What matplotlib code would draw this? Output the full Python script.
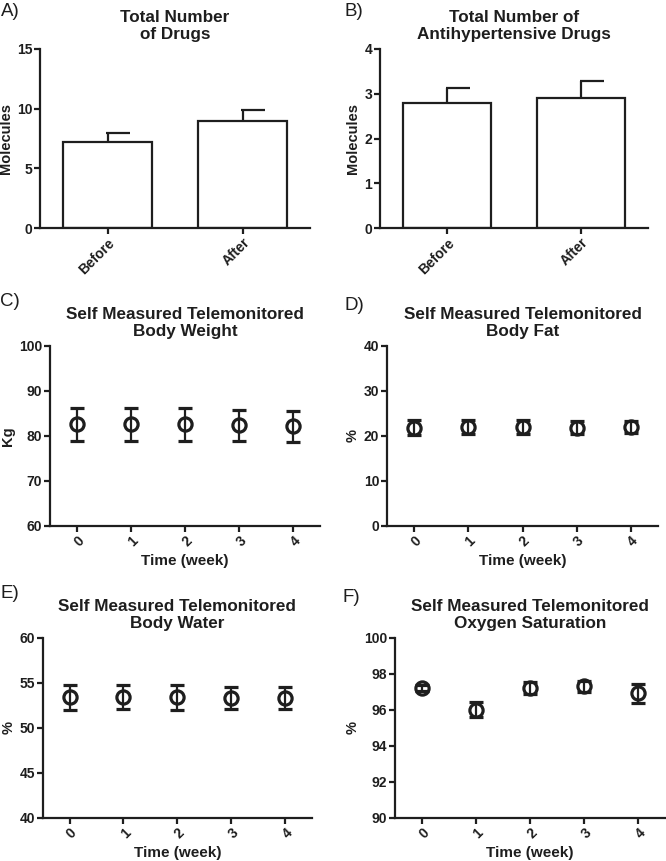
import matplotlib
matplotlib.use("Agg")
import matplotlib.pyplot as plt
import numpy as np

plt.rcParams['font.family'] = ['Liberation Sans', 'DejaVu Sans']

# ---- data ----
bar_categories = ["Before", "After"]
drugs_mean = [7.2, 9.0]
drugs_err = [0.8, 0.9]
antihyp_mean = [2.8, 2.9]
antihyp_err = [0.32, 0.38]

weeks = [0, 1, 2, 3, 4]
weight_mean = [82.5, 82.5, 82.5, 82.3, 82.1]
weight_err = [3.6, 3.6, 3.6, 3.5, 3.4]
fat_mean = [21.8, 22.0, 22.0, 21.8, 21.9]
fat_err = [1.7, 1.6, 1.6, 1.5, 1.4]
water_mean = [53.4, 53.4, 53.4, 53.3, 53.3]
water_err = [1.4, 1.3, 1.4, 1.25, 1.25]
oxy_mean = [97.2, 96.0, 97.2, 97.3, 96.9]
oxy_err = [0.18, 0.42, 0.34, 0.3, 0.52]

W, H = 666, 861
fig = plt.figure(figsize=(W / 100, H / 100), dpi=100)

INK = "#1e1e1e"


def add_ax(x0, x1, ytop, ybot):
    return fig.add_axes([x0 / W, 1 - ybot / H, (x1 - x0) / W, (ybot - ytop) / H])


LW = 1.6
TICKFS = 10
LABFS = 10.5
TITLEFS = 12.3
PANELFS = 13.5


def style(ax):
    for s in ["top", "right"]:
        ax.spines[s].set_visible(False)
    for s in ["left", "bottom"]:
        ax.spines[s].set_linewidth(LW)
        ax.spines[s].set_color(INK)
    ax.tick_params(width=LW, length=4, color=INK, labelsize=TICKFS, pad=1.5, labelcolor=INK)
    for lab in ax.get_yticklabels():
        lab.set_fontweight("bold")


def bar_panel(ax, means, errs, ymax, yticks, title):
    x = np.arange(len(bar_categories))
    ax.bar(x, means, width=0.66, color="white", edgecolor=INK, linewidth=LW, zorder=2)
    tops = np.array(means) + np.array(errs)
    ax.vlines(x, means, tops, color=INK, linewidth=LW, zorder=1)
    ax.hlines(tops, x - 0.01, x + 0.17, color=INK, linewidth=LW, zorder=1)
    ax.set_xlim(-0.5, 1.5)
    ax.set_ylim(0, ymax)
    ax.set_yticks(yticks)
    ax.set_xticks(x)
    ax.set_xticklabels(bar_categories, rotation=45, ha="right", va="top",
                       rotation_mode="anchor", fontweight="bold")
    ax.set_ylabel("Molecules", fontsize=LABFS, fontweight="bold", labelpad=3, color=INK)
    style(ax)
    ax.set_title(title, fontsize=TITLEFS, fontweight="bold", pad=7, linespacing=1.15, color=INK)


def point_panel(ax, means, errs, ylim, yticks, ylabel, title):
    ax.errorbar(weeks, means, yerr=errs, fmt="o", mfc="none", mec=INK, ms=9.5, mew=2.3,
                ecolor=INK, elinewidth=LW, capsize=4.8, capthick=LW)
    ax.set_xlim(-0.5, 4.5)
    ax.set_ylim(*ylim)
    ax.set_yticks(yticks)
    ax.set_xticks(weeks)
    ax.set_xticklabels([str(w) for w in weeks], rotation=45, ha="right", va="top",
                       rotation_mode="anchor", fontweight="bold")
    ax.set_ylabel(ylabel, fontsize=LABFS, fontweight="bold", labelpad=3, color=INK)
    ax.set_xlabel("Time (week)", fontsize=LABFS + 0.5, fontweight="bold", labelpad=4, color=INK)
    style(ax)
    ax.set_title(title, fontsize=TITLEFS, fontweight="bold", pad=7, linespacing=1.15, color=INK)


axA = add_ax(40, 310, 49, 228)
bar_panel(axA, drugs_mean, drugs_err, 15, [0, 5, 10, 15], "Total Number\nof Drugs")
axB = add_ax(380, 648, 49, 228)
bar_panel(axB, antihyp_mean, antihyp_err, 4, [0, 1, 2, 3, 4],
          "Total Number of\nAntihypertensive Drugs")

axC = add_ax(50, 320, 345.7, 525.7)
point_panel(axC, weight_mean, weight_err, (60, 100), [60, 70, 80, 90, 100], "Kg",
            "Self Measured Telemonitored\nBody Weight")
axD = add_ax(387, 658, 345.7, 525.7)
point_panel(axD, fat_mean, fat_err, (0, 40), [0, 10, 20, 30, 40], "%",
            "Self Measured Telemonitored\nBody Fat")
axE = add_ax(42.7, 312, 637.7, 817.7)
point_panel(axE, water_mean, water_err, (40, 60), [40, 45, 50, 55, 60], "%",
            "Self Measured Telemonitored\nBody Water")
axF = add_ax(394.7, 665, 637.7, 817.7)
point_panel(axF, oxy_mean, oxy_err, (90, 100), [90, 92, 94, 96, 98, 100], "%",
            "Self Measured Telemonitored\nOxygen Saturation")

# panel letters
letters = [("A)", 1, 12), ("B)", 345, 12), ("C)", 0, 302), ("D)", 345, 305),
           ("E)", 0, 593), ("F)", 343, 597)]
for txt, px, py in letters:
    fig.text(px / W, 1 - py / H, txt, fontsize=PANELFS, ha="left", va="center", color=INK)

fig.savefig("out.png", dpi=100, facecolor="white")
